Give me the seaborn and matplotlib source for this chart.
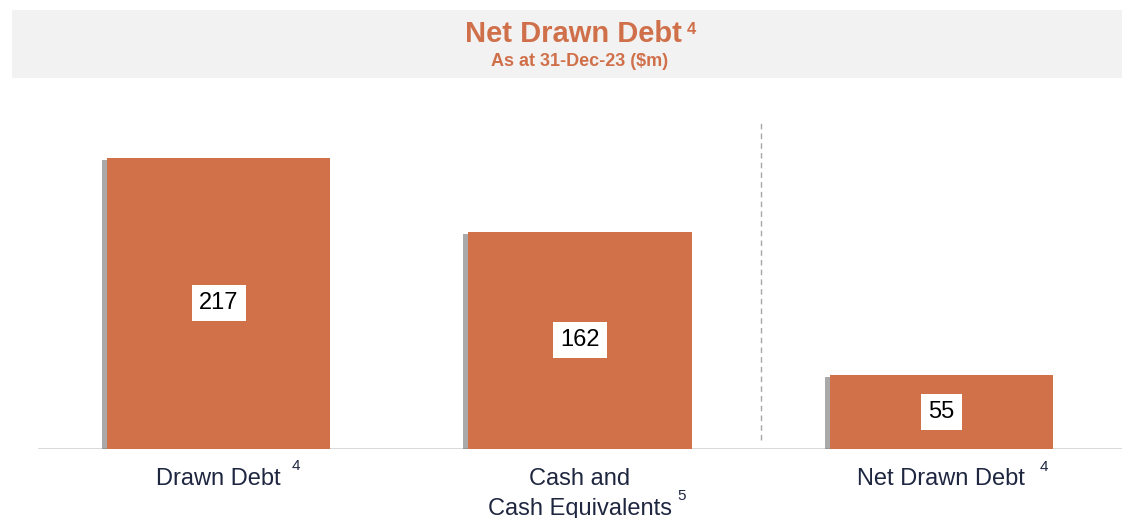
import numpy as np
import pandas as pd
import seaborn as sns
import matplotlib.pyplot as plt
import matplotlib.patheffects as pe
from matplotlib.patches import Rectangle
from matplotlib.transforms import blended_transform_factory

# Data
categories = ["Drawn Debt", "Cash and\nCash Equivalents", "Net Drawn Debt"]
values = [217, 162, 55]
footnotes = ["4", "5", "4"]

bar_color = "#D07149"
title_color = "#D0704A"
label_color = "#1E2640"

sns.set_style("white")
plt.rcParams["font.family"] = ["Liberation Sans", "DejaVu Sans"]

df = pd.DataFrame({"category": categories, "value": values})

fig = plt.figure(figsize=(11.27, 5.18), dpi=100)
W, H = 1127, 518
ax = fig.add_axes([38 / W, (H - 449) / H, (1122 - 38) / W, 349 / H])

# Title band
fig.patches.append(Rectangle((12 / W, (H - 78) / H), (1122 - 12) / W, 68 / H,
                             transform=fig.transFigure, facecolor="#F2F2F2",
                             edgecolor="none", zorder=0))
fig.text(573 / W, (H - 34) / H, "Net Drawn Debt", ha="center", va="center",
         fontsize=21, fontweight="bold", color=title_color)
fig.text(691 / W, (H - 29) / H, "4", ha="center", va="center",
         fontsize=12, fontweight="bold", color=title_color)
fig.text(580 / W, (H - 62) / H, "As at 31-Dec-23 ($m)", ha="center", va="center",
         fontsize=13, fontweight="bold", color=title_color)

sns.barplot(data=df, x="category", y="value", color=bar_color, width=0.618,
            saturation=1, ax=ax, zorder=3)

shadow = [pe.SimplePatchShadow(offset=(-3.5, -1.5), shadow_rgbFace="#555555", alpha=0.5),
          pe.Normal()]
for bar in ax.patches:
    bar.set_path_effects(shadow)
    bar.set_edgecolor("none")

for i, v in enumerate(values):
    ax.text(i, v / 2, f"{v}", ha="center", va="center", fontsize=17, color="black",
            zorder=5, bbox=dict(boxstyle="square,pad=0.3", facecolor="white",
                                edgecolor="none"))

ax.set_xlim(-0.5, 2.5)
ax.set_ylim(0, 260)
ax.axhline(0, color="#CFCFCF", lw=1.8, zorder=2)
ax.vlines(1.5, 7, 243, colors="#A6A6A6", linestyles=(0, (4, 3)), lw=1)

ax.set_xlabel("")
ax.set_ylabel("")
ax.set_yticks([])
ax.tick_params(axis="x", length=0, pad=14, labelsize=17, labelcolor=label_color)
for lbl in ax.get_xticklabels():
    lbl.set_linespacing(1.45)
for s in ax.spines.values():
    s.set_visible(False)

# footnote superscripts next to category labels
trans = blended_transform_factory(ax.transData, fig.transFigure)
sup_pos = [(0.215, 466), (1.281, 496), (2.284, 467)]
for (x, y), fn in zip(sup_pos, footnotes):
    ax.text(x, (H - y) / H, fn, transform=trans, ha="center", va="center",
            fontsize=11, color=label_color)

fig.savefig("out.png", dpi=100)
